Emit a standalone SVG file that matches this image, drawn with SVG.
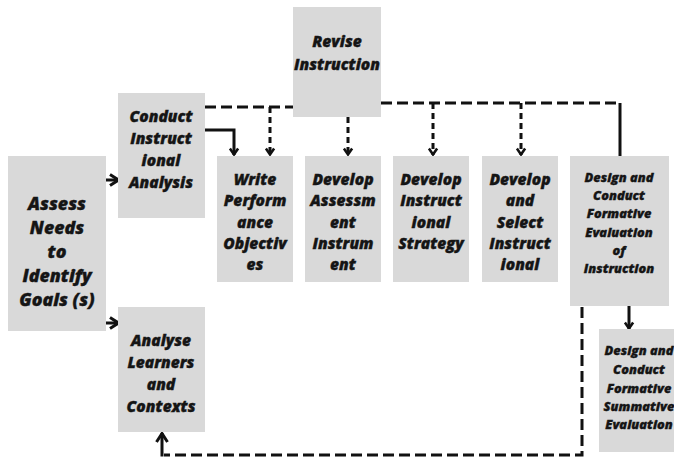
<svg xmlns="http://www.w3.org/2000/svg" width="674" height="457" viewBox="0 0 674 457">
<defs>
<marker id="ah" viewBox="0 0 14 14" refX="12" refY="7" markerWidth="14" markerHeight="14" orient="auto" markerUnits="userSpaceOnUse">
<path d="M3,1.5 L11.5,7 L3,12.5" fill="none" stroke="#111" stroke-width="3" stroke-linejoin="miter"/>
</marker>
<marker id="as" viewBox="0 0 12 12" refX="10" refY="6" markerWidth="11" markerHeight="11" orient="auto" markerUnits="userSpaceOnUse">
<path d="M3,1.5 L9.5,6 L3,10.5" fill="none" stroke="#111" stroke-width="2.8" stroke-linejoin="miter"/>
</marker>
</defs>
<style>
.box{fill:#d9d9d9}
text{font-family:"Open Sans","DejaVu Sans",sans-serif;font-weight:800;font-style:italic;fill:#151515;stroke:#151515;stroke-width:0.35;text-anchor:middle}
.l{font-size:17.8px}
.m{font-size:15.6px}
.s{font-size:12.8px}
.c{fill:none;stroke:#111;stroke-width:3}
.d{stroke-dasharray:11 5}
.v{stroke-dasharray:6 4}
</style>
<rect width="674" height="457" fill="#fff"/>
<g id="connectors">
<path class="c" d="M98,180 H119" marker-end="url(#ah)"/>
<path class="c" d="M98,323 H119" marker-end="url(#ah)"/>
<path class="c" d="M205,130 H234 V155" marker-end="url(#as)"/>
<path class="c d" d="M205,107 H293"/>
<path class="c v" d="M270,107 V155" marker-end="url(#as)"/>
<path class="c v" d="M348,117 V155" marker-end="url(#as)"/>
<path class="c d" d="M381,103 H620"/>
<path class="c" d="M620,103 V156"/>
<path class="c v" d="M433,103 V155" marker-end="url(#as)"/>
<path class="c v" d="M521,103 V155" marker-end="url(#as)"/>
<path class="c" d="M629,303 V329" marker-end="url(#as)"/>
<path class="c d" d="M582,307 V455 H164"/>
<path class="c" d="M162,456.5 V433" marker-end="url(#ah)"/>
</g>
<g id="assess"><rect class="box" x="8" y="156" width="98" height="175"/>
<text class="l"><tspan x="57" y="210">Assess</tspan><tspan x="57" y="234">Needs</tspan><tspan x="57" y="258">to</tspan><tspan x="57" y="282">Identify</tspan><tspan x="57" y="306">Goals (s)</tspan></text></g>
<g id="conduct"><rect class="box" x="118" y="93" width="87" height="125"/>
<text class="m"><tspan x="161" y="122">Conduct</tspan><tspan x="161" y="144">Instruct</tspan><tspan x="161" y="166">ional</tspan><tspan x="161" y="188">Analysis</tspan></text></g>
<g id="revise"><rect class="box" x="293" y="7" width="88" height="110"/>
<text class="m"><tspan x="337" y="47">Revise</tspan><tspan x="337" y="70">Instruction</tspan></text></g>
<g id="write"><rect class="box" x="217" y="156" width="76" height="126"/>
<text class="m"><tspan x="255" y="185">Write</tspan><tspan x="255" y="206">Perform</tspan><tspan x="255" y="228">ance</tspan><tspan x="255" y="249">Objectiv</tspan><tspan x="255" y="270">es</tspan></text></g>
<g id="assessment"><rect class="box" x="305" y="156" width="76" height="126"/>
<text class="m"><tspan x="343" y="185">Develop</tspan><tspan x="343" y="206">Assessm</tspan><tspan x="343" y="228">ent</tspan><tspan x="343" y="249">Instrum</tspan><tspan x="343" y="270">ent</tspan></text></g>
<g id="strategy"><rect class="box" x="393" y="156" width="76" height="126"/>
<text class="m"><tspan x="431" y="185">Develop</tspan><tspan x="431" y="206">Instruct</tspan><tspan x="431" y="228">ional</tspan><tspan x="431" y="249">Strategy</tspan></text></g>
<g id="select"><rect class="box" x="482" y="156" width="76" height="126"/>
<text class="m"><tspan x="520" y="185">Develop</tspan><tspan x="520" y="206">and</tspan><tspan x="520" y="228">Select</tspan><tspan x="520" y="249">Instruct</tspan><tspan x="520" y="270">ional</tspan></text></g>
<g id="formative"><rect class="box" x="570" y="156" width="99" height="150"/>
<text class="s"><tspan x="619" y="182">Design and</tspan><tspan x="619" y="200">Conduct</tspan><tspan x="619" y="218">Formative</tspan><tspan x="619" y="237">Evaluation</tspan><tspan x="619" y="255">of</tspan><tspan x="619" y="273">Instruction</tspan></text></g>
<g id="summative"><rect class="box" x="599" y="329" width="80" height="123"/>
<text class="s"><tspan x="639" y="355">Design and</tspan><tspan x="639" y="374">Conduct</tspan><tspan x="639" y="393">Formative</tspan><tspan x="639" y="411">Summative</tspan><tspan x="639" y="429">Evaluation</tspan></text></g>
<g id="analyse"><rect class="box" x="118" y="307" width="87" height="125"/>
<text class="m"><tspan x="161" y="346">Analyse</tspan><tspan x="161" y="368">Learners</tspan><tspan x="161" y="390">and</tspan><tspan x="161" y="412">Contexts</tspan></text></g>
</svg>
